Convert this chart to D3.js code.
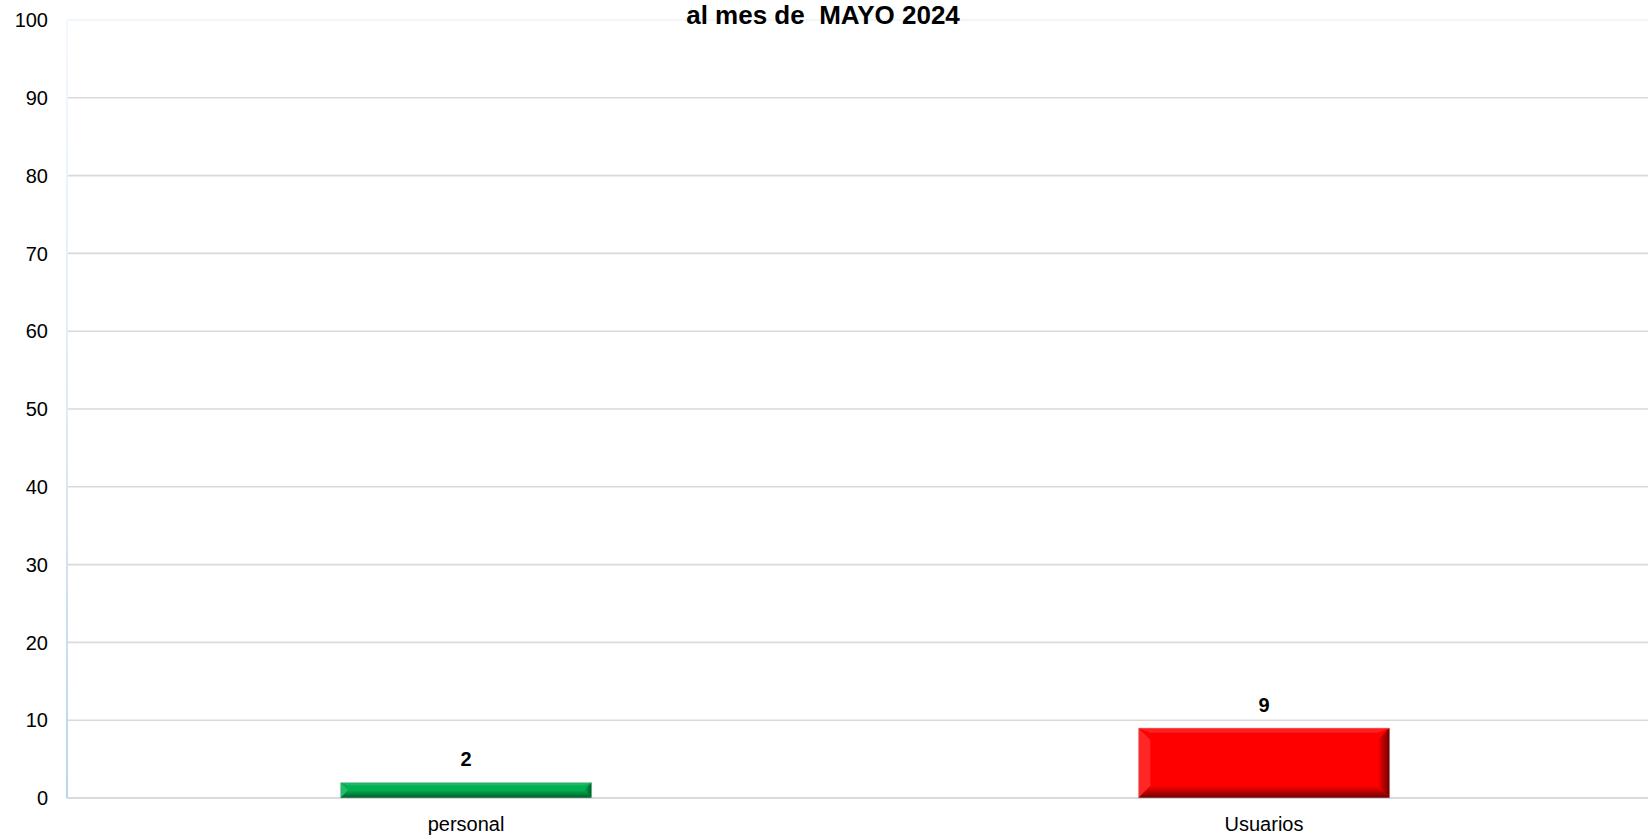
<!DOCTYPE html>
<html>
<head>
<meta charset="utf-8">
<script src="https://cdn.jsdelivr.net/npm/d3@7"></script>
<style>
  html, body { margin: 0; padding: 0; background: #ffffff; overflow: hidden; }
  svg { display: block; }
  text { font-family: "Liberation Sans", Arial, sans-serif; fill: #000; }
</style>
</head>
<body>
<svg id="chart" width="1648" height="835"></svg>
<script>
const categories = ["personal", "Usuarios"];
const values = [2, 9];
const barColors = ["#00b050", "#ff0000"];
const barDark = ["#005a28", "#6e0000"];
const yTicks = [0, 10, 20, 30, 40, 50, 60, 70, 80, 90, 100];
const titleText = "al mes de  MAYO 2024";

const svg = d3.select("#chart");
const W = 1648, H = 835;
const plotLeft = 67, plotRight = 1663, plotTop = 20, plotBottom = 798;

const x = d3.scaleBand().domain(categories).range([plotLeft, plotRight]).padding(0);
const y = d3.scaleLinear().domain([0, 100]).range([plotBottom, plotTop]);
const barW = x.bandwidth() * 0.315;

const defs = svg.append("defs");
const axisGrad = defs.append("linearGradient").attr("id", "axisGrad")
  .attr("x1", 0).attr("y1", 0).attr("x2", 0).attr("y2", 1);
axisGrad.append("stop").attr("offset", "0%").attr("stop-color", "#f3f8fd");
axisGrad.append("stop").attr("offset", "55%").attr("stop-color", "#dbe9f7");
axisGrad.append("stop").attr("offset", "100%").attr("stop-color", "#b9d5ee");

// plot area border (very faint top)
svg.append("line")
  .attr("x1", plotLeft).attr("x2", W).attr("y1", plotTop).attr("y2", plotTop)
  .attr("stroke", "#f1f6fb").attr("stroke-width", 2);

// gridlines
svg.append("g").selectAll("line").data(yTicks.filter(d => d > 0 && d < 100)).join("line")
  .attr("x1", plotLeft).attr("x2", W)
  .attr("y1", d => y(d)).attr("y2", d => y(d))
  .attr("stroke", "#d9d9d9").attr("stroke-width", 1.6);

// zero line
svg.append("line")
  .attr("x1", plotLeft).attr("x2", W).attr("y1", y(0)).attr("y2", y(0))
  .attr("stroke", "#d6dbe0").attr("stroke-width", 2);

// y axis line
svg.append("rect")
  .attr("x", plotLeft - 1).attr("y", plotTop).attr("width", 2).attr("height", plotBottom - plotTop)
  .attr("fill", "url(#axisGrad)");

// y tick labels
svg.append("g").selectAll("text").data(yTicks).join("text")
  .attr("x", 48).attr("y", d => y(d)).attr("dy", "0.36em")
  .attr("text-anchor", "end").attr("font-size", 20)
  .text(d => d);

// bars with bevel
const bars = svg.append("g");
categories.forEach((c, i) => {
  const cx = x(c) + x.bandwidth() / 2;
  const x0 = cx - barW / 2, x1 = cx + barW / 2;
  const y0 = y(values[i]), y1 = y(0);
  const h = y1 - y0;
  const b = Math.min(12, h / 2);
  const g = bars.append("g");
  const gidB = "gB" + i, gidR = "gR" + i, gidL = "gL" + i, gidT = "gT" + i;
  const gb = defs.append("linearGradient").attr("id", gidB).attr("x1", 0).attr("y1", 0).attr("x2", 0).attr("y2", 1);
  gb.append("stop").attr("offset", "0%").attr("stop-color", barColors[i]);
  gb.append("stop").attr("offset", "100%").attr("stop-color", barDark[i]);
  const gr = defs.append("linearGradient").attr("id", gidR).attr("x1", 0).attr("y1", 0).attr("x2", 1).attr("y2", 0);
  gr.append("stop").attr("offset", "0%").attr("stop-color", barColors[i]);
  gr.append("stop").attr("offset", "100%").attr("stop-color", barDark[i]);
  g.append("rect").attr("x", x0).attr("y", y0).attr("width", barW).attr("height", h)
    .attr("fill", barColors[i]);
  // top bevel (light)
  g.append("polygon")
    .attr("points", [[x0, y0], [x1, y0], [x1 - b, y0 + b * 0.4], [x0 + b, y0 + b * 0.4]].map(p => p.join(",")).join(" "))
    .attr("fill", "#ffffff").attr("opacity", 0.12);
  // left bevel (light)
  g.append("polygon")
    .attr("points", [[x0, y0], [x0 + b, y0 + b], [x0 + b, y1 - b], [x0, y1]].map(p => p.join(",")).join(" "))
    .attr("fill", "#ffffff").attr("opacity", 0.15);
  // right bevel (dark)
  g.append("polygon")
    .attr("points", [[x1, y0], [x1 - b, y0 + b], [x1 - b, y1 - b], [x1, y1]].map(p => p.join(",")).join(" "))
    .attr("fill", "url(#" + gidR + ")");
  // bottom bevel (dark)
  g.append("polygon")
    .attr("points", [[x0, y1], [x0 + b, y1 - b], [x1 - b, y1 - b], [x1, y1]].map(p => p.join(",")).join(" "))
    .attr("fill", "url(#" + gidB + ")");
  g.append("rect").attr("x", x0).attr("y", y0).attr("width", barW).attr("height", h)
    .attr("fill", "none").attr("stroke", "#c8c8c8").attr("stroke-width", 0.8).attr("stroke-opacity", 0.7);

  // value label
  svg.append("text")
    .attr("x", cx).attr("y", y0 - 16)
    .attr("text-anchor", "middle").attr("font-size", 20).attr("font-weight", "bold")
    .text(values[i]);
  // category label
  svg.append("text")
    .attr("x", cx).attr("y", 831)
    .attr("text-anchor", "middle").attr("font-size", 20)
    .text(c);
});

// title
svg.append("text")
  .attr("x", 823).attr("y", 24)
  .attr("text-anchor", "middle").attr("font-size", 26).attr("font-weight", "bold")
  .style("white-space", "pre").attr("xml:space", "preserve")
  .text(titleText);
</script>
</body>
</html>
